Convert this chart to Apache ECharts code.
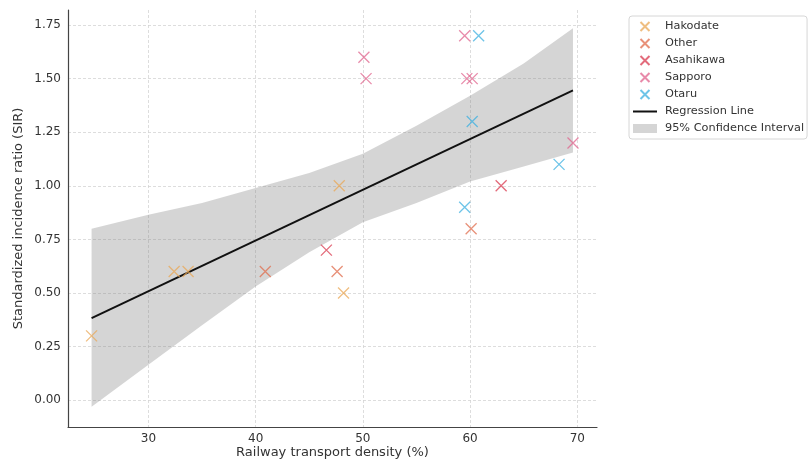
<!DOCTYPE html>
<html>
<head>
<meta charset="utf-8">
<script src="https://cdn.jsdelivr.net/npm/echarts@6/dist/echarts.min.js"></script>
<style>
  html, body { margin: 0; padding: 0; background: #fff; }
  #chart { width: 808px; height: 460px; }
</style>
</head>
<body>
<div id="chart"></div>
<script>
// points per region: [density %, SIR]
var hakodate = [[24.7, 0.30], [32.4, 0.60], [33.7, 0.60], [47.8, 1.00], [48.2, 0.50]];
var other = [[40.9, 0.60], [47.6, 0.60], [60.1, 0.80]];
var asahikawa = [[46.6, 0.70], [62.9, 1.00]];
var sapporo = [[50.1, 1.60], [50.3, 1.50], [59.5, 1.70], [59.7, 1.50], [60.2, 1.50], [69.6, 1.20]];
var otaru = [[60.8, 1.70], [60.2, 1.30], [59.5, 0.90], [68.3, 1.10]];

// regression line end points
var regLine = [[24.7, 0.383], [69.6, 1.445]];

var bandX = [24.7, 30, 35, 40, 45, 50, 55, 60, 65, 69.6];
var bandUpper = [0.80, 0.865, 0.92, 0.99, 1.06, 1.15, 1.28, 1.42, 1.57, 1.735];
var bandLower = [-0.03, 0.165, 0.35, 0.53, 0.69, 0.83, 0.92, 1.02, 1.09, 1.155];

var xMarker = 'path://M0,0L10,10M10,0L0,10';
var font = 'DejaVu Sans';

function scatterSeries(name, color, data) {
    return {
        name: name,
        type: 'scatter',
        data: data,
        symbol: xMarker,
        symbolSize: 11,
        symbolKeepAspect: true,
        itemStyle: {
            color: color,
            borderColor: color,
            borderWidth: 1.3,
            opacity: 0.75
        },
        z: 5
    };
}

var chart = echarts.init(document.getElementById('chart'));
chart.setOption({
    animation: false,
    textStyle: { fontFamily: font },
    grid: { left: 68, right: 211, top: 10, bottom: 33, outerBoundsMode: 'none' },
    legend: {
        orient: 'vertical',
        left: 629,
        top: 16,
        padding: [5, 3, 5, 4],
        itemGap: 6,
        itemWidth: 24,
        itemHeight: 9,
        symbolKeepAspect: true,
        borderColor: '#d6d6d6',
        borderWidth: 1,
        borderRadius: 3,
        textStyle: { fontFamily: font, fontSize: 11.3, color: '#333', padding: [0, 0, 0, 3] },
        data: [
            'Hakodate', 'Other', 'Asahikawa', 'Sapporo', 'Otaru',
            { name: 'Regression Line', icon: 'path://M0,0h24v2h-24z' },
            { name: '95% Confidence Interval', icon: 'rect' }
        ]
    },
    xAxis: {
        type: 'value',
        min: 22.5,
        max: 71.84,
        interval: 2.5,
        name: 'Railway transport density (%)',
        nameLocation: 'middle',
        nameGap: 19,
        nameMoveOverlap: false,
        nameTextStyle: { fontFamily: font, fontSize: 13, color: '#333' },
        axisLine: { onZero: false, lineStyle: { color: '#444', width: 1.2 } },
        axisTick: { show: false },
        axisLabel: {
            margin: 6,
            fontFamily: font,
            fontSize: 12,
            color: '#333',
            showMaxLabel: false,
            formatter: function (v) {
                return Math.abs(v % 10) < 1e-6 ? String(v) : '';
            }
        },
        splitLine: {
            show: true,
            lineStyle: {
                color: ['transparent', 'transparent', 'transparent', '#d4d4d4'],
                type: [3, 2],
                width: 0.8
            }
        }
    },
    yAxis: {
        type: 'value',
        min: -0.125,
        max: 1.82,
        interval: 0.125,
        name: 'Standardized incidence ratio (SIR)',
        nameLocation: 'middle',
        nameGap: 43,
        nameMoveOverlap: false,
        nameTextStyle: { fontFamily: font, fontSize: 13, color: '#333' },
        axisLine: { lineStyle: { color: '#444', width: 1.2 } },
        axisTick: { show: false },
        axisLabel: {
            margin: 7,
            fontFamily: font,
            fontSize: 12,
            color: '#333',
            showMaxLabel: false,
            formatter: function (v) {
                var r = Math.round(v / 0.25);
                return Math.abs(v - r * 0.25) < 1e-6 ? v.toFixed(2) : '';
            }
        },
        splitLine: {
            show: true,
            lineStyle: {
                color: ['transparent', '#d4d4d4'],
                type: [3, 2],
                width: 0.8
            }
        }
    },
    series: [
        {
            name: '95% Confidence Interval',
            type: 'custom',
            data: [0],
            itemStyle: { color: 'rgba(128,128,128,0.33)' },
            z: 1,
            renderItem: function (params, api) {
                var pts = [];
                for (var i = 0; i < bandX.length; i++) {
                    pts.push(api.coord([bandX[i], bandUpper[i]]));
                }
                for (var j = bandX.length - 1; j >= 0; j--) {
                    pts.push(api.coord([bandX[j], bandLower[j]]));
                }
                return {
                    type: 'polygon',
                    shape: { points: pts },
                    style: { fill: 'rgba(128,128,128,0.33)' }
                };
            }
        },
        {
            name: 'Regression Line',
            type: 'line',
            data: regLine,
            symbol: 'none',
            lineStyle: { color: '#111', width: 2 },
            itemStyle: { color: '#111' },
            z: 4
        },
        scatterSeries('Hakodate', '#E9A857', hakodate),
        scatterSeries('Other', '#E06C4C', other),
        scatterSeries('Asahikawa', '#D9394F', asahikawa),
        scatterSeries('Sapporo', '#E0648E', sapporo),
        scatterSeries('Otaru', '#3EB0E0', otaru)
    ]
});
</script>
</body>
</html>
